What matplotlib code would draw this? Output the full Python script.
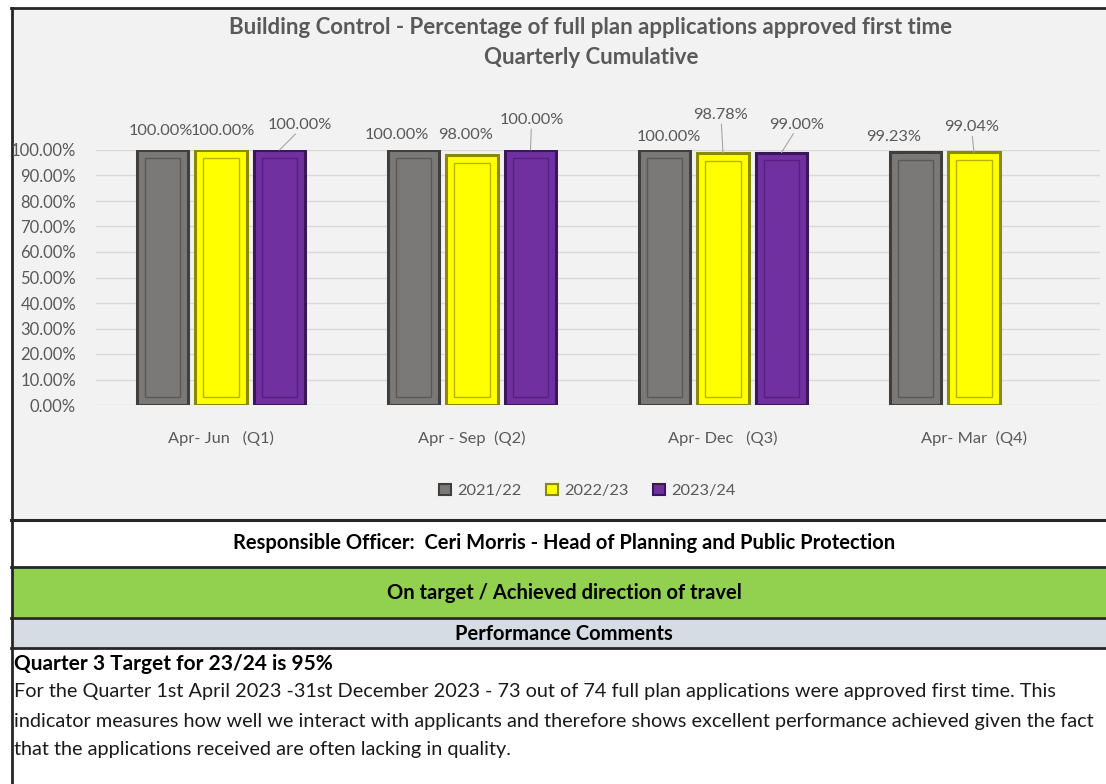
import matplotlib
matplotlib.use("Agg")
import matplotlib.pyplot as plt
from matplotlib.patches import Patch, Rectangle
from matplotlib.lines import Line2D
import numpy as np

plt.rcParams['font.family'] = ['Lato', 'DejaVu Sans']

categories = ["Apr- Jun   (Q1)", "Apr - Sep  (Q2)", "Apr- Dec   (Q3)", "Apr- Mar  (Q4)"]
series_names = ["2021/22", "2022/23", "2023/24"]
v2122 = [100.00, 100.00, 100.00, 99.23]
v2223 = [100.00, 98.00, 98.78, 99.04]
v2324 = [100.00, 100.00, 99.00, None]
yticks = [0, 10, 20, 30, 40, 50, 60, 70, 80, 90, 100]

title_lines = ["Building Control - Percentage of full plan applications approved first time",
               "Quarterly Cumulative"]
officer = "Responsible Officer:  Ceri Morris - Head of Planning and Public Protection"
status = "On target / Achieved direction of travel"
comments_head = "Performance Comments"
target_line = "Quarter 3 Target for 23/24 is 95%"
body_lines = ["For the Quarter 1st April 2023 -31st December 2023 - 73 out of 74 full plan applications were approved first time. This",
              "indicator measures how well we interact with applicants and therefore shows excellent performance achieved given the fact",
              "that the applications received are often lacking in quality."]

fills = ["#7b7878", "#ffff00", "#7030a0"]
edges = ["#3f3f3f", "#8a8a00", "#3a1758"]
inner = ["#5a5858", "#b5b500", "#55207e"]

label_off = [
    [(-2, 19, False), (2, 19, False), (20, 25, True)],
    [(-17, 15, False), (-6, 20, False), (1, 30, True)],
    [(4, 13, False), (-2, 38, True), (15, 28, True)],
    [(-22, 15, False), (-2, 25, True), None],
]

W, H = 1106, 784
fig = plt.figure(figsize=(W / 100, H / 100), dpi=100)
fig.patch.set_facecolor("white")

def fx(x): return x / W
def fy(y): return 1 - y / H

fig.patches.append(Rectangle((fx(12), fy(520)), fx(1106 - 12), (520 - 8) / H,
                             transform=fig.transFigure, facecolor="#f2f2f2", edgecolor="none", zorder=-5))
fig.patches.append(Rectangle((fx(12), fy(617)), fx(1106 - 12), (617 - 568) / H,
                             transform=fig.transFigure, facecolor="#92d050", edgecolor="none", zorder=-5))
fig.patches.append(Rectangle((fx(12), fy(647)), fx(1106 - 12), (647 - 620) / H,
                             transform=fig.transFigure, facecolor="#d6dce4", edgecolor="none", zorder=-5))
for yy, lw in [(8, 2.0), (520, 2.2), (567, 2.0), (618, 2.0), (648, 2.0)]:
    fig.add_artist(Line2D([fx(11), 1], [fy(yy), fy(yy)], transform=fig.transFigure, color="#262626", lw=lw))
fig.add_artist(Line2D([fx(12), fx(12)], [fy(8), 0], transform=fig.transFigure, color="#262626", lw=2.0))

ax = fig.add_axes([fx(95.5), fy(405), fx(1099.5 - 95.5), (405 - 150) / H])
ax.set_zorder(3)
ax.set_facecolor("none")
ax.set_xlim(-0.5, 3.5)
ax.set_ylim(0, 100)
for s in ax.spines.values():
    s.set_visible(False)
ax.set_yticks(yticks)
ax.set_yticklabels([f"{t:.2f}%" for t in yticks], fontsize=12, color="#595959")
ax.tick_params(axis="y", length=0, pad=14)
ax.set_xticks(range(len(categories)))
ax.set_xticklabels(categories, fontsize=11.8, color="#595959")
ax.tick_params(axis="x", length=0, pad=19)
ax.grid(axis="y", color="#d9d9d9", lw=1)
ax.set_axisbelow(True)

bw = 0.207
step = 0.233
x = np.arange(len(categories))
all_vals = [v2122, v2223, v2324]
for i, vals in enumerate(all_vals):
    qs = [q for q, v in enumerate(vals) if v is not None]
    xs = [x[q] + (i - 1) * step for q in qs]
    hs = [vals[q] for q in qs]
    ax.bar(xs, hs, width=bw, color=fills[i], edgecolor=edges[i], lw=2.2, zorder=3)
    ax.bar(xs, [h - 6 for h in hs], bottom=3, width=bw * 0.68, color="none",
           edgecolor=inner[i], lw=1.0, zorder=4)
    for xi, v, qi in zip(xs, hs, qs):
        dx, dy, lead = label_off[qi][i]
        ax.annotate(f"{v:.2f}%", xy=(xi, v), xytext=(dx, dy), textcoords="offset pixels",
                    ha="center", va="center", fontsize=11.8, color="#595959",
                    annotation_clip=False, zorder=5)
        if lead:
            ax.annotate("", xy=(xi, v), xytext=(dx * 0.8, dy - 9), textcoords="offset pixels",
                        arrowprops=dict(arrowstyle="-", color="#a6a6a6", lw=0.8,
                                        shrinkA=0, shrinkB=0), annotation_clip=False)

handles = [Patch(facecolor=fills[i], edgecolor=edges[i], lw=1.5) for i in range(3)]
fig.legend(handles, series_names, loc="center", bbox_to_anchor=(fx(587), fy(491)),
           ncol=3, frameon=False, fontsize=11.8, labelcolor="#595959",
           handlelength=0.73, handleheight=0.73, handletextpad=0.37, columnspacing=1.5)

fig.text(fx(591), fy(28), title_lines[0], ha="center", va="center", fontsize=16,
         fontweight="bold", color="#595959")
fig.text(fx(591), fy(58), title_lines[1], ha="center", va="center", fontsize=16,
         fontweight="bold", color="#595959")

fig.text(fx(564), fy(543), officer, ha="center", va="center", fontsize=14.5, fontweight="bold", color="black")
fig.text(fx(564), fy(593), status, ha="center", va="center", fontsize=14.5, fontweight="bold", color="black")
fig.text(fx(564), fy(634), comments_head, ha="center", va="center", fontsize=14.5, fontweight="bold", color="black")
fig.text(fx(14), fy(664), target_line, ha="left", va="center", fontsize=15, fontweight="bold", color="black")
for k, line in enumerate(body_lines):
    fig.text(fx(14), fy(692 + 29 * k), line, ha="left", va="center", fontsize=14.3, color="#1a1a1a")

fig.savefig("out.png", dpi=100, facecolor="white")
